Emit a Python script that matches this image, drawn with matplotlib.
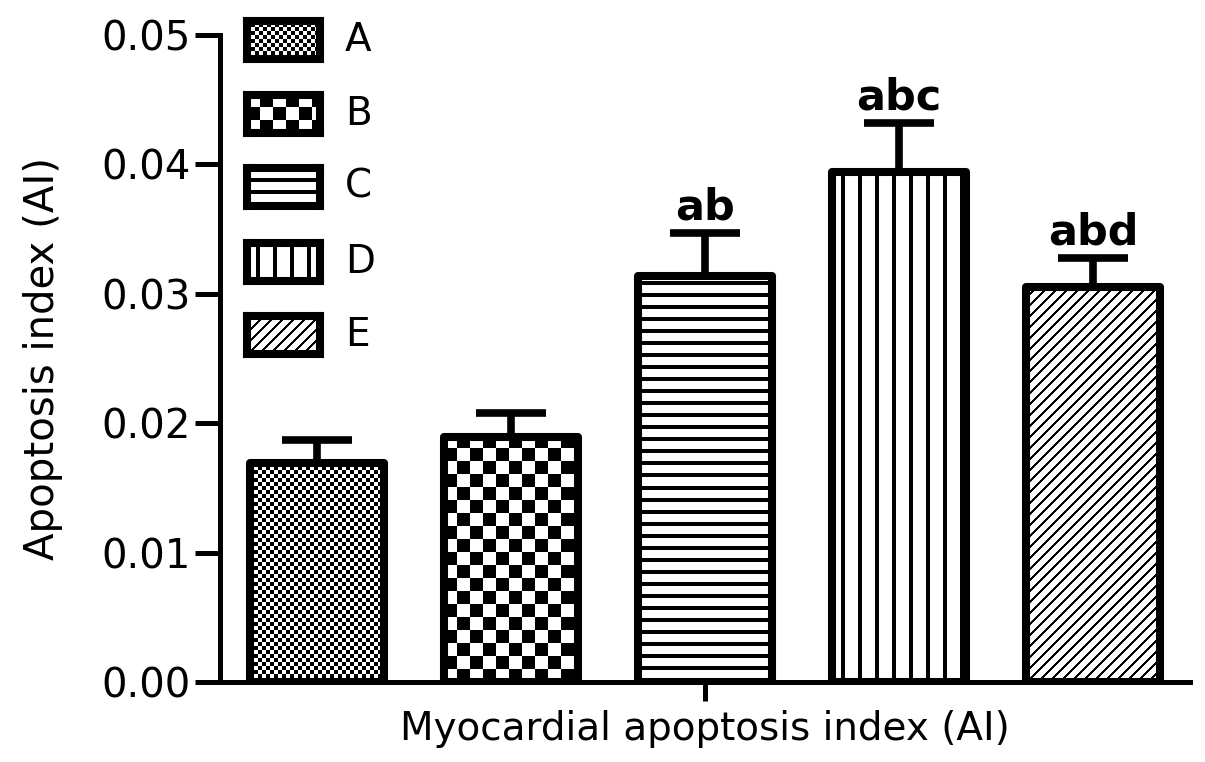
import numpy as np
import matplotlib
matplotlib.use('Agg')
import matplotlib.pyplot as plt

# Data
groups = ['A', 'B', 'C', 'D', 'E']
means = [0.0169, 0.0189, 0.0314, 0.0394, 0.0305]
errs = [0.0018, 0.0019, 0.0033, 0.0038, 0.0023]
marks = ['', '', 'ab', 'abc', 'abd']
yticks = [0.00, 0.01, 0.02, 0.03, 0.04, 0.05]


def pattern(name, nx, ny):
    # fill pattern built per screen pixel (1 = black)
    xx, yy = np.meshgrid(np.arange(nx), np.arange(ny))
    if name == 'A':
        return ((xx // 4 + yy // 4) % 2).astype(float)
    if name == 'B':
        return ((xx // 13 + yy // 13) % 2).astype(float)
    if name == 'C':
        return (yy % 12 < 4).astype(float)
    if name == 'D':
        return ((xx + 8) % 17 < 4).astype(float)
    return ((xx - yy) % 11 < 3).astype(float)


W, H = 1205, 762
fig = plt.figure(figsize=(W / 100, H / 100), dpi=100)
ax = fig.add_axes([220 / W, 80 / H, 970 / W, 647 / H])

x = np.arange(len(groups))
ax.set_xlim(-0.5, 4.5)
ax.set_ylim(0, 0.05)

# error bars (upper only visible, lower cap hidden under the bar)
ax.errorbar(x, means, yerr=[[0] * 5, errs], fmt='none', ecolor='black',
            elinewidth=5.5, capsize=25, capthick=5.5, zorder=1)

bars = ax.bar(x, means, width=0.69, facecolor='none', edgecolor='black',
              linewidth=5.8, zorder=3, joinstyle='round')

# pattern fills clipped to each bar
for g, b in zip(groups, bars):
    x0, w, h = b.get_x(), b.get_width(), b.get_height()
    p0 = ax.transData.transform((x0, 0))
    p1 = ax.transData.transform((x0 + w, h))
    nx = int(round(p1[0] - p0[0]))
    ny = int(round(p1[1] - p0[1]))
    im = ax.imshow(pattern(g, nx, ny), extent=(x0, x0 + w, 0, h), origin='lower',
                   cmap='gray_r', vmin=0, vmax=1, interpolation='nearest',
                   aspect='auto', zorder=2)
    im.set_clip_path(b)

ax.set_xlim(-0.5, 4.5)
ax.set_ylim(0, 0.05)

for xi, m, e, t in zip(x, means, errs, marks):
    if t:
        ax.annotate(t, (xi, m + e), xytext=(0, 3), textcoords='offset points',
                    ha='center', va='bottom', fontsize=31, fontweight='bold')

ax.spines['top'].set_visible(False)
ax.spines['right'].set_visible(False)
ax.spines['left'].set_linewidth(3.6)
ax.spines['bottom'].set_linewidth(3.6)

ax.set_yticks(yticks)
ax.set_yticklabels(['%.2f' % v for v in yticks])
ax.tick_params(axis='y', length=18, width=3.6, labelsize=29, pad=3)
ax.set_xticks([2])
ax.set_xticklabels([''])
ax.tick_params(axis='x', length=14, width=3.6, pad=0)

ax.set_ylabel('Apoptosis index (AI)', fontsize=29, labelpad=28)
ax.set_xlabel('Myocardial apoptosis index (AI)', fontsize=28, labelpad=6)

# legend drawn as small framed swatches
rows = [40, 114, 187, 262, 335]
for g, yc in zip(groups, rows):
    lx = fig.add_axes([247 / W, (H - yc - 19) / H, 73 / W, 38 / H])
    lx.imshow(pattern(g, 73, 38), cmap='gray_r', vmin=0, vmax=1,
              interpolation='nearest', aspect='auto', origin='lower')
    lx.set_xticks([])
    lx.set_yticks([])
    for s in lx.spines.values():
        s.set_linewidth(5.8)
    fig.text(345 / W, (H - yc) / H, g, fontsize=28, va='center', ha='left')

fig.savefig('out.png', dpi=100)
